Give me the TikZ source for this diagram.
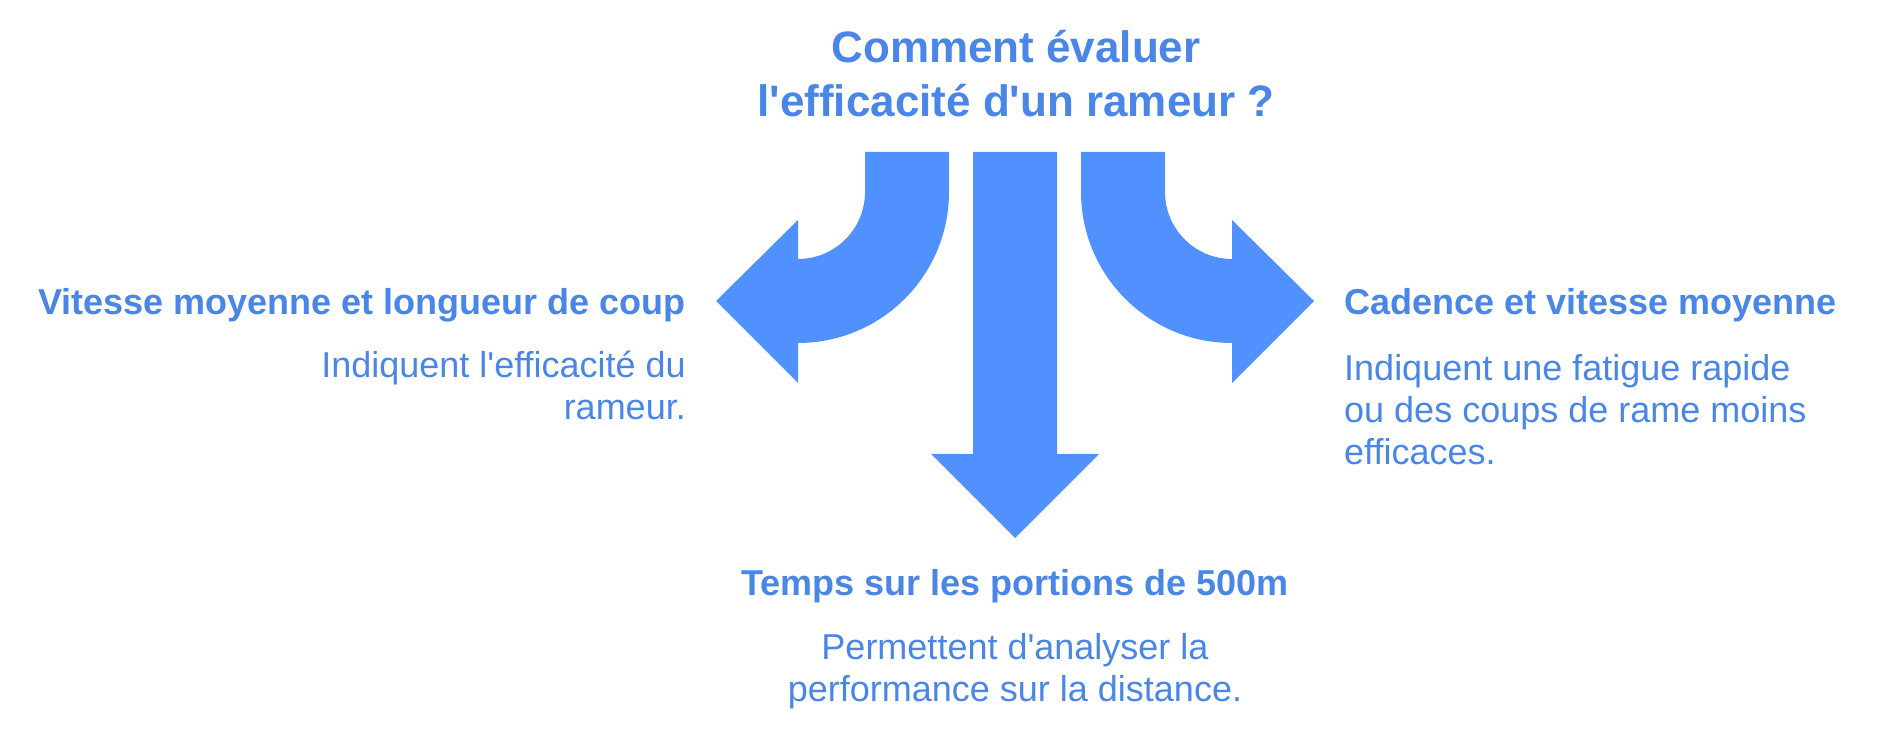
\documentclass[tikz,border=0pt]{standalone}
\usepackage{fontspec}
\newfontfamily\rwfont{Liberation Sans}
\definecolor{rwBlue}{HTML}{5191FF}
\definecolor{rwText}{HTML}{4A86E8}
\begin{document}
\begin{tikzpicture}[
    x=1pt, y=1pt,
    rwArrow/.style={fill=rwBlue, draw=none},
    rwTitle/.style={text=rwText, inner sep=0pt, align=center, font=\rwfont\fontsize{44}{54}\selectfont\bfseries},
    rwHead/.style={text=rwText, inner sep=0pt, font=\rwfont\fontsize{36}{42}\selectfont\bfseries},
    rwBody/.style={text=rwText, inner sep=0pt, font=\rwfont\fontsize{36}{42}\selectfont}
]
\useasboundingbox (0,0) rectangle (1880,735);

% question (base = last line)
\node[rwTitle, anchor=base] (title) at (1016,618) {Comment évaluer\\l'efficacité d'un rameur ?};

% the three arrows
\fill[rwArrow] (865,583) -- (865,543) arc[start angle=0, end angle=-90, radius=67]
    -- (798,515) -- (716,434) -- (798,352) -- (798,392)
    arc[start angle=-90, end angle=0, radius=151] -- (949,583) -- cycle;
\fill[rwArrow] (973,583) -- (973,281) -- (931,281) -- (1015,197) -- (1099,281)
    -- (1057,281) -- (1057,583) -- cycle;
\fill[rwArrow] (1165,583) -- (1165,543) arc[start angle=180, end angle=270, radius=67]
    -- (1232,515) -- (1314,434) -- (1232,352) -- (1232,392)
    arc[start angle=270, end angle=180, radius=151] -- (1081,583) -- cycle;

% left answer
\node[rwHead, anchor=base east] (leftHead) at (686,420) {Vitesse moyenne et longueur de coup};
\node[rwBody, anchor=base east, align=right] (leftBody) at (686,315) {Indiquent l'efficacité du\\rameur.};

% right answer
\node[rwHead, anchor=base west] (rightHead) at (1344,420) {Cadence et vitesse moyenne};
\node[rwBody, anchor=base west, align=left] (rightBody) at (1344,270) {Indiquent une fatigue rapide\\ou des coups de rame moins\\efficaces.};

% bottom answer
\node[rwHead, anchor=base] (downHead) at (1015,139) {Temps sur les portions de 500m};
\node[rwBody, anchor=base, align=center] (downBody) at (1015,33) {Permettent d'analyser la\\performance sur la distance.};
\end{tikzpicture}
\end{document}
